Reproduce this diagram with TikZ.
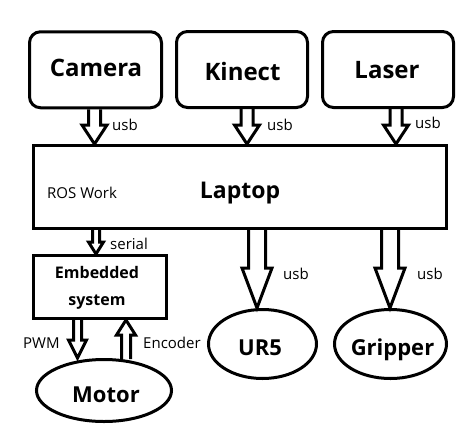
\documentclass[tikz,border=0pt]{standalone}
\usepackage{fontspec}
\setmainfont{Open Sans}
\usetikzlibrary{calc,shapes.geometric}
\tikzset{
  box/.style={draw, line width=3pt, rectangle, inner sep=0pt},
  rbox/.style={box, rounded corners=11pt},
  oval/.style={draw, line width=3pt, ellipse, inner sep=0pt},
  title/.style={font=\bfseries\fontsize{24}{24}\selectfont, inner sep=0pt, anchor=base},
  small/.style={font=\fontsize{15}{15}\selectfont, inner sep=0pt, anchor=base west},
  blk/.style={draw, line width=3pt, line join=miter}
}
% down block arrow: #1 start (x,y), #2 tip (y only), #3 shaft half, #4 head half, #5 head length
\newcommand\blkdown[5]{\draw[blk] let \p1=(#1), \p2=(#2) in
  (\x1-#3,\y1) -- (\x1-#3,\y2+#5) -- (\x1-#4,\y2+#5) -- (\x1,\y2) -- (\x1+#4,\y2+#5) -- (\x1+#3,\y2+#5) -- (\x1+#3,\y1);}
\newcommand\blkup[5]{\draw[blk] let \p1=(#1), \p2=(#2) in
  (\x1-#3,\y1) -- (\x1-#3,\y2-#5) -- (\x1-#4,\y2-#5) -- (\x1,\y2) -- (\x1+#4,\y2-#5) -- (\x1+#3,\y2-#5) -- (\x1+#3,\y1);}
\begin{document}
\begin{tikzpicture}[x=1pt,y=-1pt]
\useasboundingbox[fill=white] (0,0) rectangle (474,437);
% shapes
\node[rbox, minimum width=132pt, minimum height=76pt] (cam) at (95.5,69.75) {};
\node[rbox, minimum width=131pt, minimum height=76pt] (kin) at (242,69.5) {};
\node[rbox, minimum width=131pt, minimum height=76pt] (las) at (388,69.5) {};
\node[box, minimum width=413pt, minimum height=83pt] (lap) at (240,187) {};
\node[box, minimum width=133pt, minimum height=63pt] (emb) at (100,287) {};
\node[oval, minimum width=108pt, minimum height=69pt] (ur5) at (262.5,344) {};
\node[oval, minimum width=112pt, minimum height=69pt] (grip) at (390.5,344) {};
\node[oval, minimum width=135pt, minimum height=62pt] (mot) at (104,390.5) {};
% texts
\node[title] (camT) at (96,76) {Camera};
\node[title] (kinT) at (242.5,80) {Kinect};
\node[title] (lasT) at (387,78) {Laser};
\node[title, font=\bfseries\fontsize{23}{23}\selectfont] (lapT) at (240,198) {Laptop};
\node[small] (ros) at (47,198) {ROS Work};
\node[title, font=\bfseries\fontsize{16}{16}\selectfont] (embT1) at (97,278) {Embedded};
\node[title, font=\bfseries\fontsize{16}{16}\selectfont] (embT2) at (97,305) {system};
\node[title, font=\bfseries\fontsize{22}{22}\selectfont] (ur5T) at (260,355) {UR5};
\node[title, font=\bfseries\fontsize{22}{22}\selectfont] (gripT) at (392.5,355) {Gripper};
\node[title, font=\bfseries\fontsize{22}{22}\selectfont] (motT) at (106,402) {Motor};
% arrow x positions
\coordinate (xcam) at (94.5,0);
\coordinate (xkin) at (247,0);
\coordinate (xlas) at (396,0);
\coordinate (xser) at (96,0);
\coordinate (xur5) at (257,0);
\coordinate (xgrip) at (390,0);
\coordinate (xpwm) at (77.5,0);
\coordinate (encB) at (126,359);
% arrows
\blkdown{cam.south -| xcam}{lap.north}{6pt}{12.5pt}{19pt}
\blkdown{kin.south -| xkin}{lap.north}{6pt}{12.5pt}{19pt}
\blkdown{las.south -| xlas}{lap.north}{6pt}{12.5pt}{19pt}
\blkdown{lap.south -| xser}{emb.north}{3.5pt}{7.5pt}{12pt}
\blkdown{lap.south -| xur5}{ur5.north}{8.5pt}{15pt}{40pt}
\blkdown{lap.south -| xgrip}{grip.north}{8.5pt}{15pt}{40pt}
\blkdown{emb.south -| xpwm}{mot.north}{4pt}{9pt}{18pt}
\blkup{encB}{emb.south}{4.5pt}{9.5pt}{15pt}
% labels
\node[small] (u1) at (112,130) {usb};
\node[small] (u2) at (267,130) {usb};
\node[small] (u3) at (415,128) {usb};
\node[small] (u4) at (283,279) {usb};
\node[small] (u5) at (417,279) {usb};
\node[small] (ser) at (110,249) {serial};
\node[small] (pwm) at (23,348) {PWM};
\node[small] (enc) at (143,348) {Encoder};
\end{tikzpicture}
\end{document}
